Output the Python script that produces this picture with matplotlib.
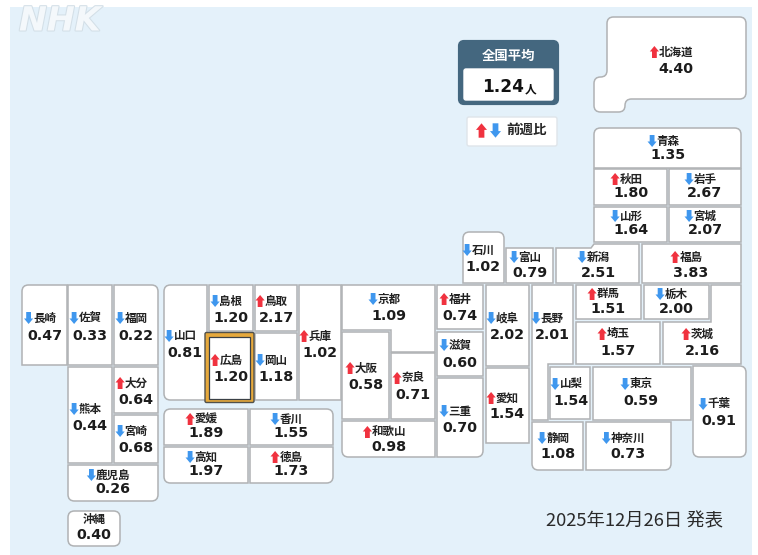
import matplotlib
matplotlib.use("Agg")
import matplotlib.pyplot as plt
import matplotlib.patheffects as pe
from matplotlib.patches import PathPatch, Polygon, Rectangle, FancyBboxPatch
from matplotlib.path import Path

CJK = ["Noto Sans CJK JP", "DejaVu Sans"]
NUM = "DejaVu Sans"
RED = "#f0323f"
BLUE = "#3f97ee"
EDGE = "#b0b2b4"
TEXT = "#1c1c1c"

# data
names = [
    "北海道", "青森", "秋田", "岩手", "山形", "宮城", "福島", "石川", "富山", "新潟",
    "群馬", "栃木", "茨城", "埼玉", "千葉", "東京", "神奈川", "山梨", "長野", "静岡",
    "岐阜", "愛知", "三重", "福井", "滋賀", "京都", "大阪", "奈良", "和歌山", "兵庫",
    "鳥取", "島根", "岡山", "広島", "山口", "徳島", "香川", "愛媛", "高知", "福岡",
    "佐賀", "長崎", "熊本", "大分", "宮崎", "鹿児島", "沖縄",
]
values = [
    "4.40", "1.35", "1.80", "2.67", "1.64", "2.07", "3.83", "1.02", "0.79", "2.51",
    "1.51", "2.00", "2.16", "1.57", "0.91", "0.59", "0.73", "1.54", "2.01", "1.08",
    "2.02", "1.54", "0.70", "0.74", "0.60", "1.09", "0.58", "0.71", "0.98", "1.02",
    "2.17", "1.20", "1.18", "1.20", "0.81", "1.73", "1.55", "1.89", "1.97", "0.22",
    "0.33", "0.47", "0.44", "0.64", "0.68", "0.26", "0.40",
]
# week on week change: 1 up, -1 down, 0 no mark
changes = [
    1, -1, 1, -1, -1, -1, 1, -1, -1, -1,
    1, -1, 1, 1, -1, -1, -1, -1, -1, -1,
    -1, 1, -1, 1, -1, -1, 1, 1, 1, 1,
    1, -1, -1, 1, -1, 1, -1, 1, -1, -1,
    -1, -1, -1, 1, -1, -1, 0,
]
national_avg = "1.24"
national_label = "全国平均"
legend_label = "前週比"
date_label = "2025年12月26日 発表"

# tile map layout, pixels: outline, rounded vertices, text centre x, label y, value y
LAYOUT = {
    "北海道": ([(607, 17), (746, 17), (746, 99), (625, 99), (625, 112), (594, 112), (594, 77), (607, 77)], "01234567", 676, 52, 69),
    "青森": ((594, 128, 741, 168), "01", 668, 141, 155),
    "秋田": ((594, 169, 667, 205), "", 631, 179, 193),
    "岩手": ((669, 169, 741, 205), "", 705, 179, 193),
    "山形": ((594, 207, 667, 242), "", 631, 216, 230),
    "宮城": ((669, 207, 741, 242), "", 705, 216, 230),
    "福島": ((642, 244, 741, 283), "", 691, 257, 273),
    "石川": ((463, 232, 504, 283), "01", 483, 250, 267),
    "富山": ((506, 248, 553, 283), "", 530, 257, 273),
    "新潟": ([(556, 248), (591, 248), (594, 244), (639, 244), (639, 283), (556, 283)], "", 598, 257, 273),
    "群馬": ((576, 285, 641, 319), "", 608, 294, 309),
    "栃木": ((644, 285, 709, 319), "", 676, 294, 309),
    "茨城": ([(711, 285), (741, 285), (741, 364), (663, 364), (663, 322), (711, 322)], "", 702, 334, 351),
    "埼玉": ((576, 322, 660, 364), "", 618, 334, 351),
    "千葉": ((693, 366, 746, 457), "123", 719, 404, 421),
    "東京": ((593, 367, 691, 420), "", 641, 384, 401),
    "神奈川": ((586, 422, 671, 470), "2", 628, 438, 454),
    "山梨": ((550, 367, 590, 419), "", 571, 384, 401),
    "長野": ([(532, 285), (573, 285), (573, 364), (548, 364), (548, 420), (532, 420)], "", 552, 318, 335),
    "静岡": ((532, 422, 583, 470), "3", 558, 438, 454),
    "岐阜": ((486, 285, 529, 366), "", 507, 318, 335),
    "愛知": ((486, 368, 529, 443), "", 507, 398, 414),
    "三重": ((437, 378, 483, 457), "2", 460, 411, 428),
    "福井": ((437, 285, 483, 329), "", 460, 299, 316),
    "滋賀": ((437, 332, 483, 376), "", 460, 345, 363),
    "京都": ([(342, 285), (435, 285), (435, 352), (391, 352), (391, 330), (342, 330)], "", 389, 299, 316),
    "大阪": ((342, 332, 389, 419), "", 366, 368, 385),
    "奈良": ((391, 353, 435, 419), "", 413, 378, 395),
    "和歌山": ((342, 421, 435, 457), "3", 389, 432, 447),
    "兵庫": ((299, 285, 341, 400), "", 320, 336, 353),
    "鳥取": ((255, 285, 297, 331), "", 276, 301, 318),
    "島根": ((209, 285, 253, 331), "", 231, 301, 318),
    "岡山": ((255, 333, 297, 400), "", 276, 360, 377),
    "広島": ((208, 336, 251, 400), "", 231, 360, 377),
    "山口": ((164, 285, 207, 400), "03", 185, 336, 353),
    "徳島": ((250, 447, 333, 483), "2", 291, 457, 471),
    "香川": ((250, 409, 333, 445), "1", 291, 419, 433),
    "愛媛": ((164, 409, 248, 445), "0", 206, 419, 433),
    "高知": ((164, 447, 248, 483), "3", 206, 457, 471),
    "福岡": ((114, 285, 158, 365), "1", 136, 318, 336),
    "佐賀": ((68, 285, 112, 365), "", 90, 318, 336),
    "長崎": ((22, 285, 67, 365), "0", 44.5, 318, 336),
    "熊本": ((68, 367, 112, 463), "", 90, 409, 426),
    "大分": ((114, 367, 158, 413), "", 136, 383, 400),
    "宮崎": ((114, 415, 158, 463), "", 136, 431, 448),
    "鹿児島": ((68, 465, 158, 501), "23", 113, 475, 489),
    "沖縄": ((68, 511, 120, 546), "0123", 94, 519, 535),
}


def toward(p, q, dist):
    dx = q[0] - p[0]
    dy = q[1] - p[1]
    length = (dx**2 + dy**2) ** 0.5
    dist = min(dist, length / 2)
    return (p[0] + dx / length * dist, p[1] + dy / length * dist)


def rounded_path(points, corners, radius=6.5):
    verts = []
    codes = []
    n = len(points)
    for i, p in enumerate(points):
        if str(i) in corners:
            a = toward(p, points[i - 1], radius)
            b = toward(p, points[(i + 1) % n], radius)
            verts += [a, p, b]
            codes += [Path.LINETO, Path.CURVE3, Path.CURVE3]
        else:
            verts.append(p)
            codes.append(Path.LINETO)
    codes[0] = Path.MOVETO
    verts.append(verts[0])
    codes.append(Path.CLOSEPOLY)
    return Path(verts, codes)


def draw_arrow(ax, x, y, direction, scale=1.0, zorder=5):
    # block arrow centred on x, y; direction 1 up, -1 down
    w = 2.4 * scale
    hw = 4.6 * scale
    h = 6.0 * scale
    neck = 0.5 * scale
    pts = [
        (x, y - h * direction),
        (x + hw, y - neck * direction),
        (x + w, y - neck * direction),
        (x + w, y + h * direction),
        (x - w, y + h * direction),
        (x - w, y - neck * direction),
        (x - hw, y - neck * direction),
    ]
    color = RED if direction > 0 else BLUE
    ax.add_patch(Polygon(pts, closed=True, fc=color, ec="none", zorder=zorder))


fig = plt.figure(figsize=(7.58, 5.55), dpi=100, facecolor="white")
ax = fig.add_axes([0, 0, 1, 1])
ax.set_xlim(0, 758)
ax.set_ylim(555, 0)
ax.axis("off")

ax.add_patch(Rectangle((10, 7), 742, 548, fc="#e4f1fa", ec="none", zorder=0))

ax.text(19, 21, "NHK", family=NUM, weight="bold", style="italic", fontsize=24, color="#f4f8fb",
        ha="left", va="center", zorder=2,
        path_effects=[pe.withStroke(linewidth=1.5, foreground="#d3dfe7")])

# tiles
for name, value, change in zip(names, values, changes):
    outline, corners, cx, label_y, value_y = LAYOUT[name]
    if isinstance(outline, tuple):
        x0, y0, x1, y1 = outline
        outline = [(x0, y0), (x1, y0), (x1, y1), (x0, y1)]
    if name == "広島":
        ax.add_patch(FancyBboxPatch((205, 332.5), 49, 70, boxstyle="round,pad=0,rounding_size=1.5",
                                    fc="#e6a93c", ec="#50504c", lw=1.0, zorder=3))
        ax.add_patch(Rectangle((208.5, 336.5), 41.5, 62.5, fc="white", ec="#3a4046", lw=0.9, zorder=3))
    else:
        ax.add_patch(PathPatch(rounded_path(outline, corners), fc="white", ec=EDGE, lw=1.1, zorder=1))
    n_chars = len(name)
    ax.text(cx, label_y, name, family=CJK, weight="bold", fontsize=8.3, color="#222222",
            ha="center", va="center", zorder=5)
    ax.text(cx, value_y, value, family=NUM, weight="bold", fontsize=10.3, color=TEXT,
            ha="center", va="center", zorder=5)
    if change != 0:
        draw_arrow(ax, cx - n_chars * 5.7 - 4.5, label_y, change)

# national average box
ax.add_patch(FancyBboxPatch((460, 42), 97, 61, boxstyle="round,pad=0,rounding_size=4", fc="#44677f",
                            ec="#44677f", lw=3, zorder=3))
ax.add_patch(FancyBboxPatch((464, 69), 89, 31, boxstyle="round,pad=0,rounding_size=2", fc="white",
                            ec="white", lw=1, zorder=4))
ax.text(509, 56, national_label, family=CJK, weight="bold", fontsize=9.6, color="white",
        ha="center", va="center", zorder=5)
ax.text(503, 86.5, national_avg, family=NUM, weight="bold", fontsize=12.2, color="#111111",
        ha="center", va="center", zorder=5)
ax.text(531, 89, "人", family=CJK, weight="bold", fontsize=8.4, color="#111111",
        ha="center", va="center", zorder=5)

# legend box
ax.add_patch(FancyBboxPatch((467, 117), 90, 29, boxstyle="round,pad=0,rounding_size=2", fc="white",
                            ec="#dfe5ea", lw=1, zorder=3))
draw_arrow(ax, 481.5, 130.5, 1, scale=1.2)
draw_arrow(ax, 495.5, 130.5, -1, scale=1.2)
ax.text(527, 130, legend_label, family=CJK, weight="bold", fontsize=9.7, color="#222222",
        ha="center", va="center", zorder=5)

ax.text(634.5, 521, date_label, family=CJK, fontsize=13.2, color="#2a2a2a",
        ha="center", va="center", zorder=5)

fig.savefig("out.png", dpi=100, facecolor="white")
